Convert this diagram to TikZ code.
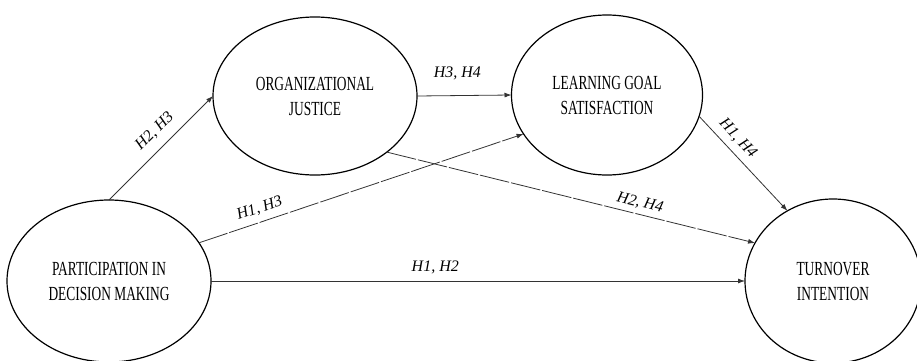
\documentclass[tikz,border=0pt]{standalone}
\usepackage{fontspec}
\setmainfont{Liberation Serif}
\newfontfamily\narrowserif[FakeStretch=0.67]{Liberation Serif}
\usetikzlibrary{arrows.meta,shapes.geometric}
\begin{document}
\begin{tikzpicture}[x=1pt,y=1pt,
		construct/.style={ellipse,draw,line width=1.2pt,outer sep=0pt,inner sep=0pt,align=center,
			font=\narrowserif\fontsize{20}{25}\selectfont},
		link/.style={-{Latex[length=7pt,width=5pt]},line width=0.8pt,draw=black!80},
		broken/.style={dash pattern=on 30pt off 2pt},
		hyp/.style={font=\itshape\fontsize{16}{18}\selectfont,sloped}]
		\useasboundingbox (0,0) rectangle (917,360);
		% constructs
		\node[construct,minimum width=204pt,minimum height=162pt] (pdm) at (109,79) {PARTICIPATION IN\\DECISION MAKING};
		\node[construct,minimum width=204pt,minimum height=158pt] (oj) at (315,264) {ORGANIZATIONAL\\JUSTICE};
		\node[construct,minimum width=191pt,minimum height=160pt] (lgs) at (607,265) {LEARNING GOAL\\SATISFACTION};
		\node[construct,minimum width=176pt,minimum height=164pt] (to) at (833,79) {TURNOVER\\INTENTION};
		% hypothesised paths
		\draw[link] (pdm.north) -- node[hyp,pos=0.55,above=6pt] {H2, H3} (oj.west);
		\draw[link] (oj.east) -- node[hyp,pos=0.43,above=12pt] {H3, H4} (lgs.west);
		\draw[link,broken] (pdm.23) -- node[hyp,pos=0.2,above=3pt] {H1, H3} (lgs.205);
		\draw[link,broken] (oj.322) -- node[hyp,pos=0.68,above=1pt] {H2, H4} (to.154);
		\draw[link] (lgs.347) -- node[hyp,pos=0.33,above=3pt] {H1, H4} (to.123);
		\draw[link] (pdm.east) -- node[hyp,pos=0.42,above=3pt] {H1, H2} (to.west);
	\end{tikzpicture}
\end{document}
